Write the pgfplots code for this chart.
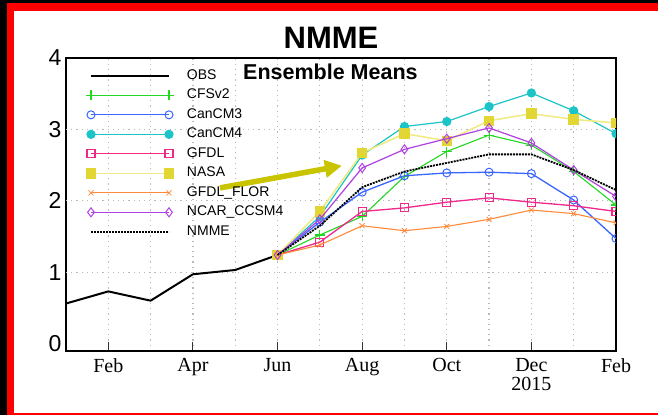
\documentclass[border=0pt]{standalone}
\usepackage{pgfplots}
\pgfplotsset{compat=1.18}
\usepackage{fontspec}
\setmainfont{Liberation Serif}
\setsansfont{Liberation Sans}
\usetikzlibrary{arrows.meta}
\definecolor{cfsgreen}{HTML}{22D822}
\definecolor{cm3blue}{HTML}{3A66FF}
\definecolor{cm4cyan}{HTML}{1CC4C8}
\definecolor{gfdlpink}{HTML}{F0288C}
\definecolor{nasayel}{HTML}{E2D634}
\definecolor{nasaline}{HTML}{F0EA80}
\definecolor{florange}{HTML}{FF8A3A}
\definecolor{ncarpurp}{HTML}{B040E0}
\definecolor{arrowcol}{HTML}{C8C400}
\definecolor{framered}{HTML}{FF0000}
\begin{document}
\begin{tikzpicture}[x=1pt,y=1pt]
\useasboundingbox (0,0) rectangle (658,415);
\fill[white] (0,0) rectangle (658,415);
% frame
\fill[black] (0,0) rectangle (7,415);
\fill[black] (0,412) rectangle (658,415);
\fill[framered] (7,0) rectangle (14,412);
\fill[framered] (7,404) rectangle (658,412);
\fill[framered] (7,0.5) rectangle (658,2.5);
% titles
\node[font=\sffamily\bfseries\fontsize{31}{31}\selectfont] at (331,377) {NMME};
\begin{axis}[
  at={(66pt,64pt)}, anchor=south west,
  scale only axis, width=550pt, height=293pt,
  xmin=0, xmax=13, ymin=-0.105, ymax=4,
  axis line style={line width=2.2pt, black},
  xtick={1,3,5,7,9,11,13},
  xticklabels={Feb,Apr,Jun,Aug,Oct,Dec\\2015,Feb},
  xticklabel style={font=\fontsize{20}{18.5}\selectfont, align=center, yshift=-4pt},
  minor xtick={2,4,6,8,10,12},
  xtick pos=bottom, xtick align=inside,
  major tick length=9pt, minor tick length=0pt,
  tick style={line width=1pt, black!80},
  ytick={0,1,2,3,4}, yticklabels={0,1,2,3,4},
  yticklabel style={font=\sffamily\fontsize{23}{23}\selectfont, xshift=-1pt},
  ytick pos=left, ytick style={draw=none},
  xmajorgrids, xminorgrids,
  extra y ticks={1,2,3}, extra y tick labels={},
  extra y tick style={ymajorgrids, major tick length=0pt},
  grid style={line width=1.2pt, black!28, dash pattern=on 1.2pt off 4pt},
  clip marker paths=true,
  legend cell align=left,
  legend style={at={(axis description cs:0.036,0.962)}, anchor=north west,
    draw=none, fill=none, inner sep=0pt, row sep=6.5pt, column sep=13pt,
    font=\sffamily\fontsize{14}{14}\selectfont,
    nodes={inner sep=0pt, text height=10pt, text depth=3pt}},
  legend image code/.code={\draw[mark repeat=2, mark phase=1] plot coordinates {(0pt,0pt) (39pt,0pt) (78pt,0pt)};},
]
\addplot[black, line width=2pt] coordinates {(0,0.56) (1,0.73) (2,0.60) (3,0.97) (4,1.03) (5,1.24)};
\addlegendentry{OBS}
\addplot[cfsgreen, line width=1.1pt, mark=+, mark size=5pt, mark options={line width=1.1pt}] coordinates {(5,1.24) (6,1.52) (7,1.78) (8,2.34) (9,2.69) (10,2.92) (11,2.78) (12,2.41) (13,1.94)};
\addlegendentry{CFSv2}
\addplot[cm3blue, line width=1.3pt, mark=o, mark size=4pt, mark options={line width=1pt}] coordinates {(5,1.24) (6,1.70) (7,2.12) (8,2.35) (9,2.39) (10,2.40) (11,2.38) (12,2.01) (13,1.47)};
\addlegendentry{CanCM3}
\addplot[cm4cyan, line width=1.2pt, mark=*, mark size=4pt] coordinates {(5,1.24) (6,1.78) (7,2.64) (8,3.04) (9,3.11) (10,3.32) (11,3.51) (12,3.26) (13,2.94)};
\addlegendentry{CanCM4}
\addplot[color=gfdlpink, line width=1.3pt, mark=square, mark size=4pt, mark options={line width=1.1pt, draw=gfdlpink}] coordinates {(5,1.24) (6,1.42) (7,1.85) (8,1.90) (9,1.98) (10,2.04) (11,1.98) (12,1.93) (13,1.85)};
\addlegendentry{GFDL}
\addplot[nasaline, line width=1.5pt, mark=square*, mark size=4.5pt, mark options={nasayel, fill=nasayel}] coordinates {(5,1.24) (6,1.85) (7,2.67) (8,2.94) (9,2.84) (10,3.12) (11,3.22) (12,3.14) (13,3.09)};
\addlegendentry{NASA}
\addplot[florange, line width=1.1pt, mark=x, mark size=3.5pt, mark options={line width=0.8pt}] coordinates {(5,1.24) (6,1.38) (7,1.65) (8,1.58) (9,1.64) (10,1.74) (11,1.87) (12,1.82) (13,1.69)};
\addlegendentry{GFDL\_FLOR}
\addplot[ncarpurp, line width=1.2pt, mark=diamond, mark size=4.5pt, mark options={line width=1pt}] coordinates {(5,1.24) (6,1.74) (7,2.46) (8,2.72) (9,2.87) (10,3.02) (11,2.81) (12,2.43) (13,2.06)};
\addlegendentry{NCAR\_CCSM4}
\addplot[black, line width=1.8pt, dash pattern=on 2pt off 1pt] coordinates {(5,1.24) (6,1.65) (7,2.19) (8,2.41) (9,2.53) (10,2.65) (11,2.65) (12,2.43) (13,2.15)};
\addlegendentry{NMME}
\node[font=\sffamily\bfseries\fontsize{21.5}{21.5}\selectfont] at (axis cs:6.25,3.8) {Ensemble Means};
\draw[arrowcol, line width=5.5pt, -{Triangle[length=17pt, width=17pt]}] (axis cs:3.64,2.18) -- (axis cs:6.52,2.49);
\end{axis}
\end{tikzpicture}
\end{document}
